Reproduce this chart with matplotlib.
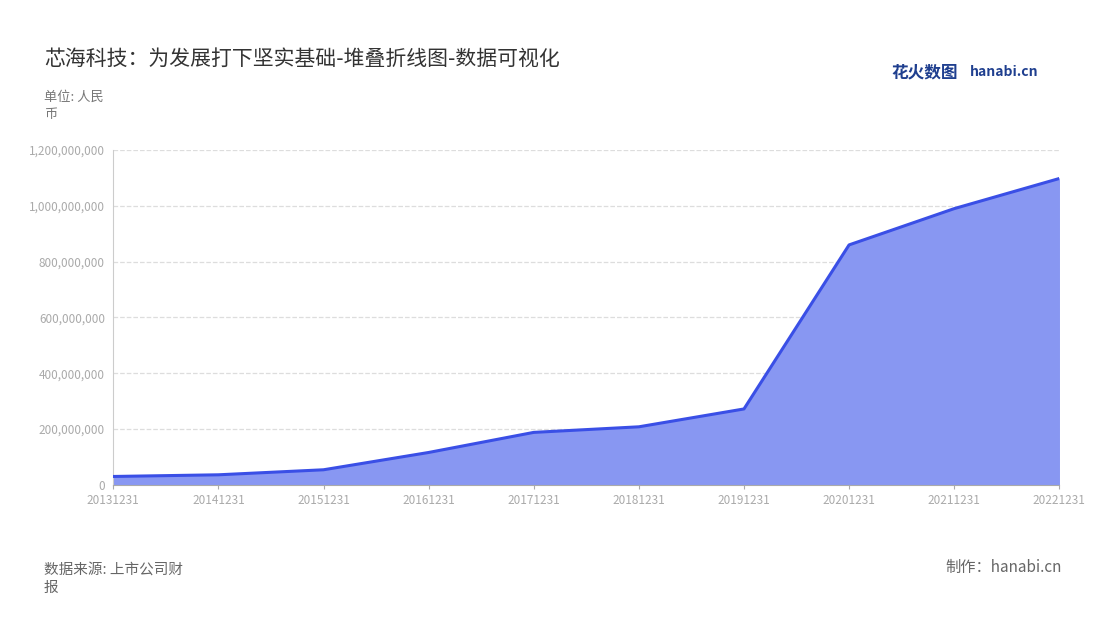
import matplotlib.pyplot as plt
from matplotlib.ticker import FuncFormatter

plt.rcParams['font.family'] = ['Noto Sans CJK SC', 'DejaVu Sans']

years = ["20131231", "20141231", "20151231", "20161231", "20171231",
         "20181231", "20191231", "20201231", "20211231", "20221231"]
values = [30e6, 36e6, 54e6, 116e6, 188e6, 208e6, 272e6, 860e6, 990e6, 1098e6]

fig = plt.figure(figsize=(11, 6.2), dpi=100)
ax = fig.add_axes([0.103, 0.218, 0.860, 0.540])

x = list(range(len(years)))
ax.fill_between(x, values, color='#8897f2', alpha=1.0, zorder=2)
ax.plot(x, values, color='#3a4fe6', linewidth=2.2, zorder=3)

ax.set_xlim(0, len(years) - 1)
ax.set_ylim(0, 1.2e9)
ax.set_yticks([i * 2e8 for i in range(7)])
ax.yaxis.set_major_formatter(FuncFormatter(lambda v, p: f"{int(v):,}"))
ax.set_xticks(x)
ax.set_xticklabels(years)
ax.tick_params(axis='both', colors='#aaaaaa', labelsize=8.5, length=3)
ax.tick_params(axis='y', length=0, pad=6)
ax.grid(axis='y', linestyle='--', color='#dddddd', linewidth=0.9, zorder=0)
for s in ['top', 'right']:
    ax.spines[s].set_visible(False)
ax.spines['left'].set_color('#cccccc')
ax.spines['bottom'].set_color('#aaaaaa')

fig.text(0.04, 0.895, "芯海科技：为发展打下坚实基础-堆叠折线图-数据可视化", fontsize=15, color='#333333')
fig.text(0.04, 0.81, "单位: 人民\n币", fontsize=9.5, color='#777777', linespacing=1.4)
fig.text(0.04, 0.045, "数据来源: 上市公司财\n报", fontsize=10.5, color='#666666', linespacing=1.4)
fig.text(0.965, 0.078, "制作：hanabi.cn", fontsize=11, color='#666666', ha='right')
fig.text(0.81, 0.875, "花火数图", fontsize=12, color='#1f3f8f', fontweight='bold')
fig.text(0.882, 0.878, "hanabi.cn", fontsize=10, color='#1f3f8f', fontweight='bold')

fig.savefig("out.png", dpi=100, facecolor='white')
